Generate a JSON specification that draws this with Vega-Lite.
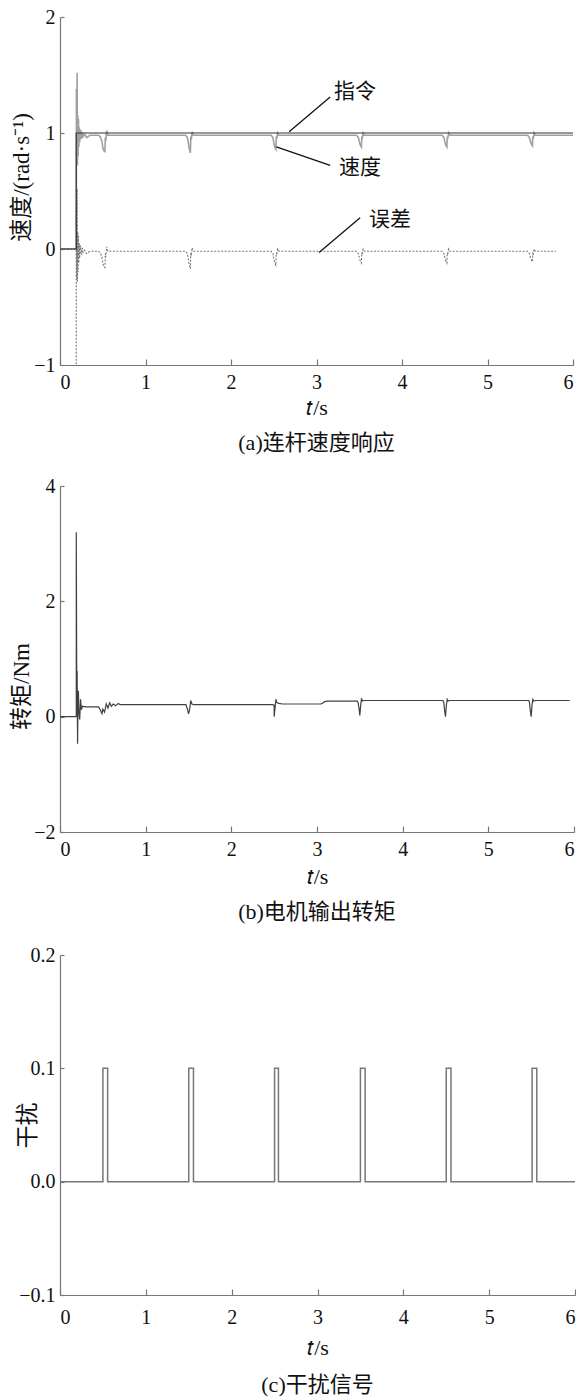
{
  "$schema": "https://vega.github.io/schema/vega-lite/v6.json",
  "padding": {"left": 10, "top": 7, "right": 0, "bottom": 0},
  "background": "white",
  "spacing": 22,
  "datasets": {
    "cmd": [{"t":0,"v":0},{"t":0.19,"v":0},{"t":0.19,"v":1},{"t":6,"v":1}],
    "spd": [
      {"t":0,"v":0},{"t":0.19,"v":0},{"t":0.192,"v":1.38},{"t":0.197,"v":0.75},{"t":0.2,"v":1.52},{"t":0.204,"v":0.72},{"t":0.208,"v":1.15},{"t":0.212,"v":0.8},{"t":0.216,"v":1.12},{"t":0.22,"v":0.88},{"t":0.225,"v":1.05},{"t":0.23,"v":0.92},{"t":0.24,"v":1.03},{"t":0.25,"v":0.95},{"t":0.26,"v":1.01},{"t":0.27,"v":0.97},{"t":0.29,"v":0.99},{"t":0.31,"v":0.96},{"t":0.33,"v":0.97},{"t":0.35,"v":0.98},
      {"t":0.45,"v":0.98},{"t":0.47,"v":0.97},{"t":0.49,"v":0.93},{"t":0.5,"v":0.88},{"t":0.51,"v":0.85},{"t":0.525,"v":0.84},{"t":0.53,"v":0.96},{"t":0.535,"v":0.93},{"t":0.545,"v":1.02},{"t":0.56,"v":0.98},
      {"t":1.47,"v":0.98},{"t":1.49,"v":0.96},{"t":1.5,"v":0.92},{"t":1.51,"v":0.87},{"t":1.525,"v":0.83},{"t":1.53,"v":0.97},{"t":1.535,"v":0.94},{"t":1.545,"v":1.01},{"t":1.56,"v":0.98},
      {"t":2.47,"v":0.98},{"t":2.49,"v":0.96},{"t":2.5,"v":0.92},{"t":2.51,"v":0.88},{"t":2.525,"v":0.86},{"t":2.53,"v":0.97},{"t":2.535,"v":0.95},{"t":2.545,"v":1.0},{"t":2.56,"v":0.98},
      {"t":3.47,"v":0.98},{"t":3.49,"v":0.96},{"t":3.5,"v":0.93},{"t":3.51,"v":0.9},{"t":3.525,"v":0.88},{"t":3.53,"v":0.97},{"t":3.535,"v":0.95},{"t":3.545,"v":1.0},{"t":3.56,"v":0.98},
      {"t":4.47,"v":0.98},{"t":4.49,"v":0.96},{"t":4.5,"v":0.93},{"t":4.51,"v":0.9},{"t":4.525,"v":0.88},{"t":4.53,"v":0.97},{"t":4.535,"v":0.95},{"t":4.545,"v":1.0},{"t":4.56,"v":0.98},
      {"t":5.47,"v":0.98},{"t":5.49,"v":0.96},{"t":5.5,"v":0.93},{"t":5.51,"v":0.91},{"t":5.525,"v":0.89},{"t":5.53,"v":0.97},{"t":5.535,"v":0.95},{"t":5.545,"v":1.0},{"t":5.56,"v":0.98},
      {"t":6,"v":0.98}
    ],
    "err": [
      {"t":0,"v":0},{"t":0.19,"v":0},{"t":0.19,"v":-1},{"t":0.192,"v":0.38},{"t":0.197,"v":-0.25},{"t":0.2,"v":0.52},{"t":0.204,"v":-0.28},{"t":0.208,"v":0.15},{"t":0.212,"v":-0.2},{"t":0.216,"v":0.12},{"t":0.22,"v":-0.12},{"t":0.225,"v":0.05},{"t":0.23,"v":-0.08},{"t":0.24,"v":0.03},{"t":0.25,"v":-0.05},{"t":0.26,"v":0.01},{"t":0.27,"v":-0.03},{"t":0.29,"v":-0.01},{"t":0.31,"v":-0.04},{"t":0.33,"v":-0.03},{"t":0.35,"v":-0.02},
      {"t":0.45,"v":-0.02},{"t":0.47,"v":-0.03},{"t":0.49,"v":-0.07},{"t":0.5,"v":-0.12},{"t":0.51,"v":-0.15},{"t":0.525,"v":-0.16},{"t":0.53,"v":-0.04},{"t":0.535,"v":-0.07},{"t":0.545,"v":0.02},{"t":0.56,"v":-0.02},
      {"t":1.47,"v":-0.02},{"t":1.49,"v":-0.04},{"t":1.5,"v":-0.08},{"t":1.51,"v":-0.13},{"t":1.525,"v":-0.17},{"t":1.53,"v":-0.03},{"t":1.535,"v":-0.06},{"t":1.545,"v":0.01},{"t":1.56,"v":-0.02},
      {"t":2.47,"v":-0.02},{"t":2.49,"v":-0.04},{"t":2.5,"v":-0.08},{"t":2.51,"v":-0.12},{"t":2.525,"v":-0.14},{"t":2.53,"v":-0.03},{"t":2.535,"v":-0.05},{"t":2.545,"v":0.0},{"t":2.56,"v":-0.02},
      {"t":3.47,"v":-0.02},{"t":3.49,"v":-0.04},{"t":3.5,"v":-0.07},{"t":3.51,"v":-0.1},{"t":3.525,"v":-0.12},{"t":3.53,"v":-0.03},{"t":3.535,"v":-0.05},{"t":3.545,"v":0.0},{"t":3.56,"v":-0.02},
      {"t":4.47,"v":-0.02},{"t":4.49,"v":-0.04},{"t":4.5,"v":-0.07},{"t":4.51,"v":-0.1},{"t":4.525,"v":-0.12},{"t":4.53,"v":-0.03},{"t":4.535,"v":-0.05},{"t":4.545,"v":0.0},{"t":4.56,"v":-0.02},
      {"t":5.47,"v":-0.02},{"t":5.49,"v":-0.04},{"t":5.5,"v":-0.07},{"t":5.51,"v":-0.09},{"t":5.525,"v":-0.11},{"t":5.53,"v":-0.03},{"t":5.535,"v":-0.05},{"t":5.545,"v":0.0},{"t":5.56,"v":-0.02},
      {"t":5.8,"v":-0.02}
    ],
    "ann": [
      {"t":3.45,"v":1.35,"label":"指令"},
      {"t":3.51,"v":0.70,"label":"速度"},
      {"t":3.86,"v":0.25,"label":"误差"}
    ],
    "lead": [
      {"t":2.68,"v":1.01,"t2":3.16,"v2":1.31},
      {"t":2.53,"v":0.88,"t2":3.16,"v2":0.72},
      {"t":3.03,"v":-0.03,"t2":3.51,"v2":0.27}
    ],
    "torque": [
      {"t":0,"v":0},{"t":0.19,"v":0},{"t":0.19,"v":3.2},{"t":0.195,"v":0.8},{"t":0.2,"v":0.78},{"t":0.205,"v":-0.47},{"t":0.21,"v":0.2},{"t":0.215,"v":0.45},{"t":0.22,"v":0.1},{"t":0.23,"v":-0.05},{"t":0.24,"v":0.3},{"t":0.25,"v":0.12},{"t":0.26,"v":0.18},{"t":0.3,"v":0.17},{"t":0.45,"v":0.17},{"t":0.47,"v":0.12},{"t":0.49,"v":0.05},{"t":0.5,"v":0.13},{"t":0.52,"v":0.08},{"t":0.54,"v":0.22},{"t":0.56,"v":0.15},{"t":0.58,"v":0.24},{"t":0.6,"v":0.18},{"t":0.62,"v":0.22},{"t":0.65,"v":0.19},{"t":0.68,"v":0.23},{"t":0.7,"v":0.21},
      {"t":1.47,"v":0.21},{"t":1.49,"v":0.12},{"t":1.5,"v":0.05},{"t":1.51,"v":0.1},{"t":1.52,"v":0.2},{"t":1.525,"v":0.28},{"t":1.54,"v":0.22},{"t":1.56,"v":0.21},
      {"t":2.48,"v":0.21},{"t":2.5,"v":0.2},{"t":2.5,"v":0.0},{"t":2.51,"v":0.15},{"t":2.52,"v":0.3},{"t":2.53,"v":0.25},{"t":2.55,"v":0.23},{"t":2.6,"v":0.22},
      {"t":3.05,"v":0.22},{"t":3.09,"v":0.26},{"t":3.12,"v":0.27},
      {"t":3.47,"v":0.27},{"t":3.48,"v":0.24},{"t":3.49,"v":0.15},{"t":3.5,"v":0.02},{"t":3.51,"v":0.2},{"t":3.52,"v":0.32},{"t":3.53,"v":0.27},{"t":3.55,"v":0.28},
      {"t":4.47,"v":0.28},{"t":4.48,"v":0.25},{"t":4.49,"v":0.1},{"t":4.5,"v":0.0},{"t":4.51,"v":0.2},{"t":4.52,"v":0.3},{"t":4.53,"v":0.27},{"t":4.55,"v":0.28},
      {"t":5.47,"v":0.28},{"t":5.48,"v":0.25},{"t":5.49,"v":0.1},{"t":5.5,"v":0.0},{"t":5.51,"v":0.2},{"t":5.52,"v":0.3},{"t":5.53,"v":0.27},{"t":5.55,"v":0.28},
      {"t":5.95,"v":0.28}
    ],
    "dist": [
      {"t":0,"v":0},{"t":0.5,"v":0},{"t":0.5,"v":0.1},{"t":0.555,"v":0.1},{"t":0.555,"v":0},
      {"t":1.5,"v":0},{"t":1.5,"v":0.1},{"t":1.555,"v":0.1},{"t":1.555,"v":0},
      {"t":2.5,"v":0},{"t":2.5,"v":0.1},{"t":2.545,"v":0.1},{"t":2.545,"v":0},
      {"t":3.5,"v":0},{"t":3.5,"v":0.1},{"t":3.555,"v":0.1},{"t":3.555,"v":0},
      {"t":4.5,"v":0},{"t":4.5,"v":0.1},{"t":4.555,"v":0.1},{"t":4.555,"v":0},
      {"t":5.5,"v":0},{"t":5.5,"v":0.1},{"t":5.555,"v":0.1},{"t":5.555,"v":0},
      {"t":6,"v":0}
    ]
  },
  "vconcat": [
    {
      "width": 513, "height": 348,
      "title": {"text": "(a)连杆速度响应", "orient": "bottom", "offset": 15},
      "layer": [
        {
          "data": {"name": "spd"},
          "mark": {"type": "line", "color": "#a0a0a0", "strokeWidth": 1.6, "clip": true},
          "encoding": {
            "x": {"field": "t", "type": "quantitative", "scale": {"domain": [0, 6], "nice": false}, "axis": {"values": [0,1,2,3,4,5,6], "format": "d", "title": "𝑡/s", "labelPadding": 13, "titlePadding": 5}},
            "y": {"field": "v", "type": "quantitative", "scale": {"domain": [-1, 2], "nice": false}, "axis": {"values": [-1,0,1,2], "format": "d", "title": "速度/(rad·s⁻¹)", "titleX": -27, "titleY": 160}},
            "order": {"value": null}
          }
        },
        {
          "data": {"name": "err"},
          "mark": {"type": "line", "color": "#777", "strokeWidth": 1.1, "strokeDash": [2, 1.5], "clip": true},
          "encoding": {
            "x": {"field": "t", "type": "quantitative"},
            "y": {"field": "v", "type": "quantitative"},
            "order": {"value": null}
          }
        },
        {
          "data": {"name": "cmd"},
          "mark": {"type": "line", "color": "#333", "strokeWidth": 1.2, "clip": true},
          "encoding": {
            "x": {"field": "t", "type": "quantitative"},
            "y": {"field": "v", "type": "quantitative"},
            "order": {"value": null}
          }
        },
        {
          "data": {"name": "lead"},
          "mark": {"type": "rule", "color": "#111", "strokeWidth": 1.3},
          "encoding": {
            "x": {"field": "t", "type": "quantitative"},
            "y": {"field": "v", "type": "quantitative"},
            "x2": {"field": "t2"},
            "y2": {"field": "v2"}
          }
        },
        {
          "data": {"name": "ann"},
          "mark": {"type": "text", "font": "Noto Sans CJK SC", "fontSize": 21, "color": "#111", "align": "center", "baseline": "middle"},
          "encoding": {
            "x": {"field": "t", "type": "quantitative"},
            "y": {"field": "v", "type": "quantitative"},
            "text": {"field": "label"}
          }
        }
      ]
    },
    {
      "width": 514, "height": 346,
      "title": {"text": "(b)电机输出转矩", "orient": "bottom", "offset": 15},
      "data": {"name": "torque"},
      "mark": {"type": "line", "color": "#404040", "strokeWidth": 1.2, "clip": true},
      "encoding": {
        "x": {"field": "t", "type": "quantitative", "scale": {"domain": [0, 6], "nice": false}, "axis": {"values": [0,1,2,3,4,5,6], "format": "d", "title": "𝑡/s", "labelPadding": 13, "titlePadding": 7}},
        "y": {"field": "v", "type": "quantitative", "scale": {"domain": [-2, 4], "nice": false}, "axis": {"values": [-2,0,2,4], "format": "d", "title": "转矩/Nm", "titleX": -27, "titleY": 200}},
        "order": {"value": null}
      }
    },
    {
      "width": 515, "height": 340,
      "title": {"text": "(c)干扰信号", "orient": "bottom", "offset": 17},
      "data": {"name": "dist"},
      "mark": {"type": "line", "color": "#777", "strokeWidth": 1.5, "clip": true},
      "encoding": {
        "x": {"field": "t", "type": "quantitative", "scale": {"domain": [0, 6], "nice": false}, "axis": {"values": [0,1,2,3,4,5,6], "format": "d", "title": "𝑡/s", "labelPadding": 18, "titlePadding": 10}},
        "y": {"field": "v", "type": "quantitative", "scale": {"domain": [-0.1, 0.2], "nice": false}, "axis": {"values": [-0.1,0,0.1,0.2], "format": ".1f", "title": "干扰", "titleX": -21}},
        "order": {"value": null}
      }
    }
  ],
  "config": {
    "view": {"stroke": null},
    "title": {"font": "Liberation Serif, Noto Sans CJK SC", "fontSize": 22, "fontWeight": "normal", "color": "#111"},
    "axis": {
      "grid": false,
      "domainColor": "#777", "domainWidth": 1.2,
      "tickColor": "#777", "tickWidth": 1.2,
      "labelFont": "Liberation Serif", "labelFontSize": 20, "labelColor": "#111",
      "titleFont": "Liberation Serif, Noto Sans CJK SC", "titleFontSize": 22, "titleFontWeight": "normal", "titleColor": "#111"
    },
    "axisX": {"tickSize": -6},
    "axisY": {"tickSize": -4, "labelPadding": 9, "titleFontSize": 23}
  }
}
